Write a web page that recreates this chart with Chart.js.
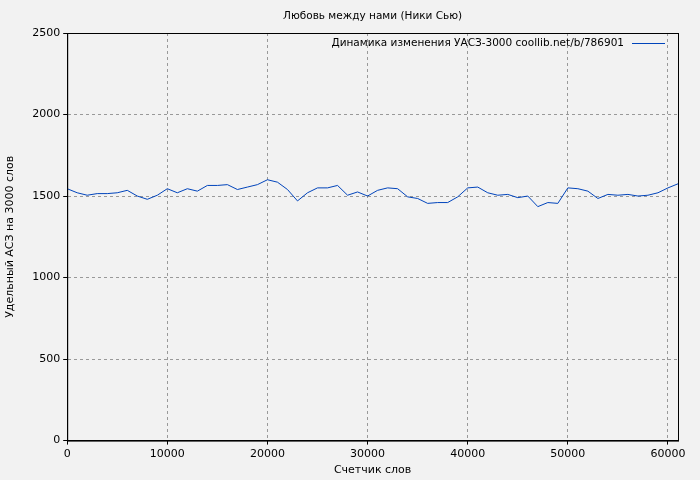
<!DOCTYPE html><html><head><script src="https://cdn.jsdelivr.net/npm/chart.js@4"></script>
<style>body{margin:0;background:#f2f2f2}#w{width:700px;height:480px}</style></head><body><div id="w"><canvas id="c"></canvas></div>
<script>
const words=[0,1000,2000,3000,4000,5000,6000,7000,8000,9000,10000,11000,12000,13000,14000,15000,16000,17000,18000,19000,20000,21000,22000,23000,24000,25000,26000,27000,28000,29000,30000,31000,32000,33000,34000,35000,36000,37000,38000,39000,40000,41000,42000,43000,44000,45000,46000,47000,48000,49000,50000,51000,52000,53000,54000,55000,56000,57000,58000,59000,60000,61000];
const asz=[1545,1520,1505,1515,1515,1520,1535,1500,1480,1505,1545,1520,1545,1530,1565,1565,1570,1540,1555,1570,1600,1585,1540,1470,1520,1550,1550,1565,1505,1525,1500,1535,1550,1545,1495,1485,1455,1460,1460,1495,1550,1555,1520,1505,1510,1490,1500,1435,1460,1455,1550,1545,1530,1485,1510,1505,1510,1500,1505,1520,1550,1575];
const xTicks=[0,10000,20000,30000,40000,50000,60000];
const yTicks=[0,500,1000,1500,2000,2500];
const titleText='Любовь между нами (Ники Сью)';
const seriesName='Динамика изменения УАСЗ-3000 coollib.net/b/786901';
const F='DejaVu Sans';
Chart.defaults.font.family=F;Chart.defaults.font.size=11;Chart.defaults.color='#000';
const grid={color:'#999',tickColor:'#000',tickLength:4,drawOnChartArea:true};
const frame={id:'frame',afterDraw(c){const a=c.chartArea,x=c.ctx;x.save();x.strokeStyle='#000';x.lineWidth=1;x.strokeRect(a.left+0.5,a.top+0.5,a.width,a.height);
x.font='10.5px '+F;x.fillStyle='#000';x.textAlign='center';x.textBaseline='middle';x.fillText(titleText,(a.left+a.right)/2,16);
x.textAlign='right';const ly=a.top+10;
x.fillText(seriesName,a.right-54,ly);x.strokeStyle='#0044bb';x.beginPath();x.moveTo(a.right-46,ly+0.5);x.lineTo(a.right-13,ly+0.5);x.stroke();x.restore();}};
new Chart(document.getElementById('c'),{type:'line',
data:{datasets:[{label:seriesName,data:words.map((x,i)=>({x,y:asz[i]})),borderColor:'#0044bb',borderWidth:1,pointRadius:0,tension:0}]},
options:{responsive:true,maintainAspectRatio:false,animation:false,
layout:{padding:{right:22,top:33,left:2,bottom:3}},
plugins:{title:{display:false},legend:{display:false},tooltip:{enabled:false}},
scales:{x:{type:'linear',min:0,max:61000,afterBuildTicks:s=>{s.ticks=xTicks.map(v=>({value:v}))},ticks:{maxRotation:0,callback:v=>String(v)},grid,border:{color:'#000',dash:[3,3]},title:{display:true,text:'Счетчик слов',padding:0}},
y:{min:0,max:2500,afterFit:s=>{s.width+=10},afterBuildTicks:s=>{s.ticks=yTicks.map(v=>({value:v}))},ticks:{callback:v=>String(v)},grid,border:{color:'#000',dash:[3,3]},title:{display:true,text:'Удельный АСЗ на 3000 слов',padding:2}}}},
plugins:[frame]});
</script></body></html>
